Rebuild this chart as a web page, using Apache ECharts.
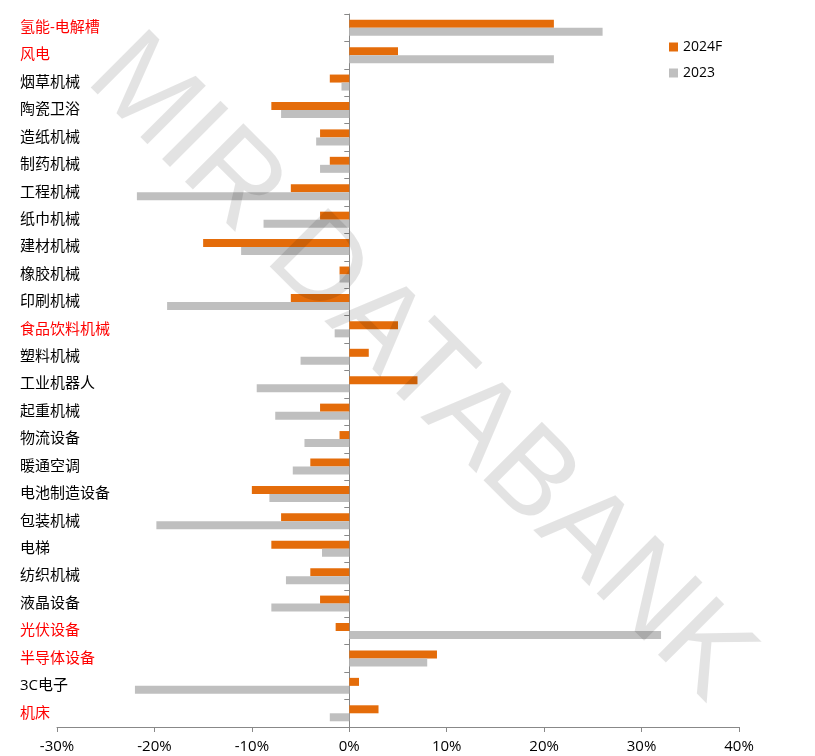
<!DOCTYPE html>
<html>
<head>
<meta charset="utf-8">
<script src="https://cdn.jsdelivr.net/npm/echarts@6/dist/echarts.min.js"></script>
<style>html,body{margin:0;padding:0;background:#fff}#c{width:815px;height:756px}</style>
</head>
<body>
<div id="c"></div>
<script>
var categories = ['氢能-电解槽','风电','烟草机械','陶瓷卫浴','造纸机械','制药机械','工程机械','纸巾机械','建材机械','橡胶机械','印刷机械','食品饮料机械','塑料机械','工业机器人','起重机械','物流设备','暖通空调','电池制造设备','包装机械','电梯','纺织机械','液晶设备','光伏设备','半导体设备','3C电子','机床'];
var redCategories = ['氢能-电解槽','风电','食品饮料机械','光伏设备','半导体设备','机床'];
var series2024F = [21,5,-2,-8,-3,-2,-6,-3,-15,-1,-6,5,2,7,-3,-1,-4,-10,-7,-8,-4,-3,-1.4,9,1,3];
var series2023 = [26,21,-0.8,-7,-3.4,-3,-21.8,-8.8,-11.1,-1,-18.7,-1.5,-5,-9.5,-7.6,-4.6,-5.8,-8.2,-19.8,-2.8,-6.5,-8,32,8,-22,-2];
var seriesNames = ['2024F','2023'];
var xTicks = {min:-30, max:40, interval:10};

var FONT = '"Open Sans","Noto Sans CJK SC",sans-serif';
var chart = echarts.init(document.getElementById('c'), null, {renderer:'canvas'});
chart.setOption({
  animation:false,
  backgroundColor:'#fff',
  grid:{left:57, right:76, top:14, bottom:29, containLabel:false, outerBoundsMode:'none'},
  legend:{
    orient:'vertical', left:664, top:34, itemWidth:9, itemHeight:9, itemGap:10,
    icon:'rect',
    textStyle:{fontSize:14, color:'#000', fontFamily:FONT, lineHeight:16},
    data:seriesNames
  },
  xAxis:{
    type:'value', min:xTicks.min, max:xTicks.max, interval:xTicks.interval,
    axisLine:{show:true, lineStyle:{color:'#888', width:1}},
    axisTick:{show:true, length:5, lineStyle:{color:'#888'}},
    splitLine:{show:false},
    axisLabel:{formatter:'{value}%', fontSize:15, color:'#000', fontFamily:FONT, margin:12}
  },
  yAxis:{
    type:'category', inverse:true, data:categories,
    axisLine:{show:true, onZero:true, lineStyle:{color:'#888', width:1}},
    axisTick:{show:true, length:5, lineStyle:{color:'#888'}},
    axisLabel:{
      align:'left', margin:37, fontSize:15, fontFamily:FONT, padding:[3,0,0,0],
      color:function(v){ return redCategories.indexOf(v) >= 0 ? '#ff0000' : '#000'; }
    }
  },
  series:[
    {name:seriesNames[0], type:'bar', data:series2024F, barWidth:8, barGap:'0%', itemStyle:{color:'#E46C0A'}},
    {name:seriesNames[1], type:'bar', data:series2023, barWidth:8, barGap:'0%', itemStyle:{color:'#BFBFBF'}}
  ],
  graphic:[{
    type:'text', x:419, y:369, rotation:-Math.PI/4, z:100, silent:true,
    style:{text:'MIR DATABANK', font:'120px "Liberation Sans", sans-serif', fill:'rgba(0,0,0,0.11)',
      align:'center', verticalAlign:'middle', textAlign:'center', textVerticalAlign:'middle'}
  }]
});
</script>
</body>
</html>
